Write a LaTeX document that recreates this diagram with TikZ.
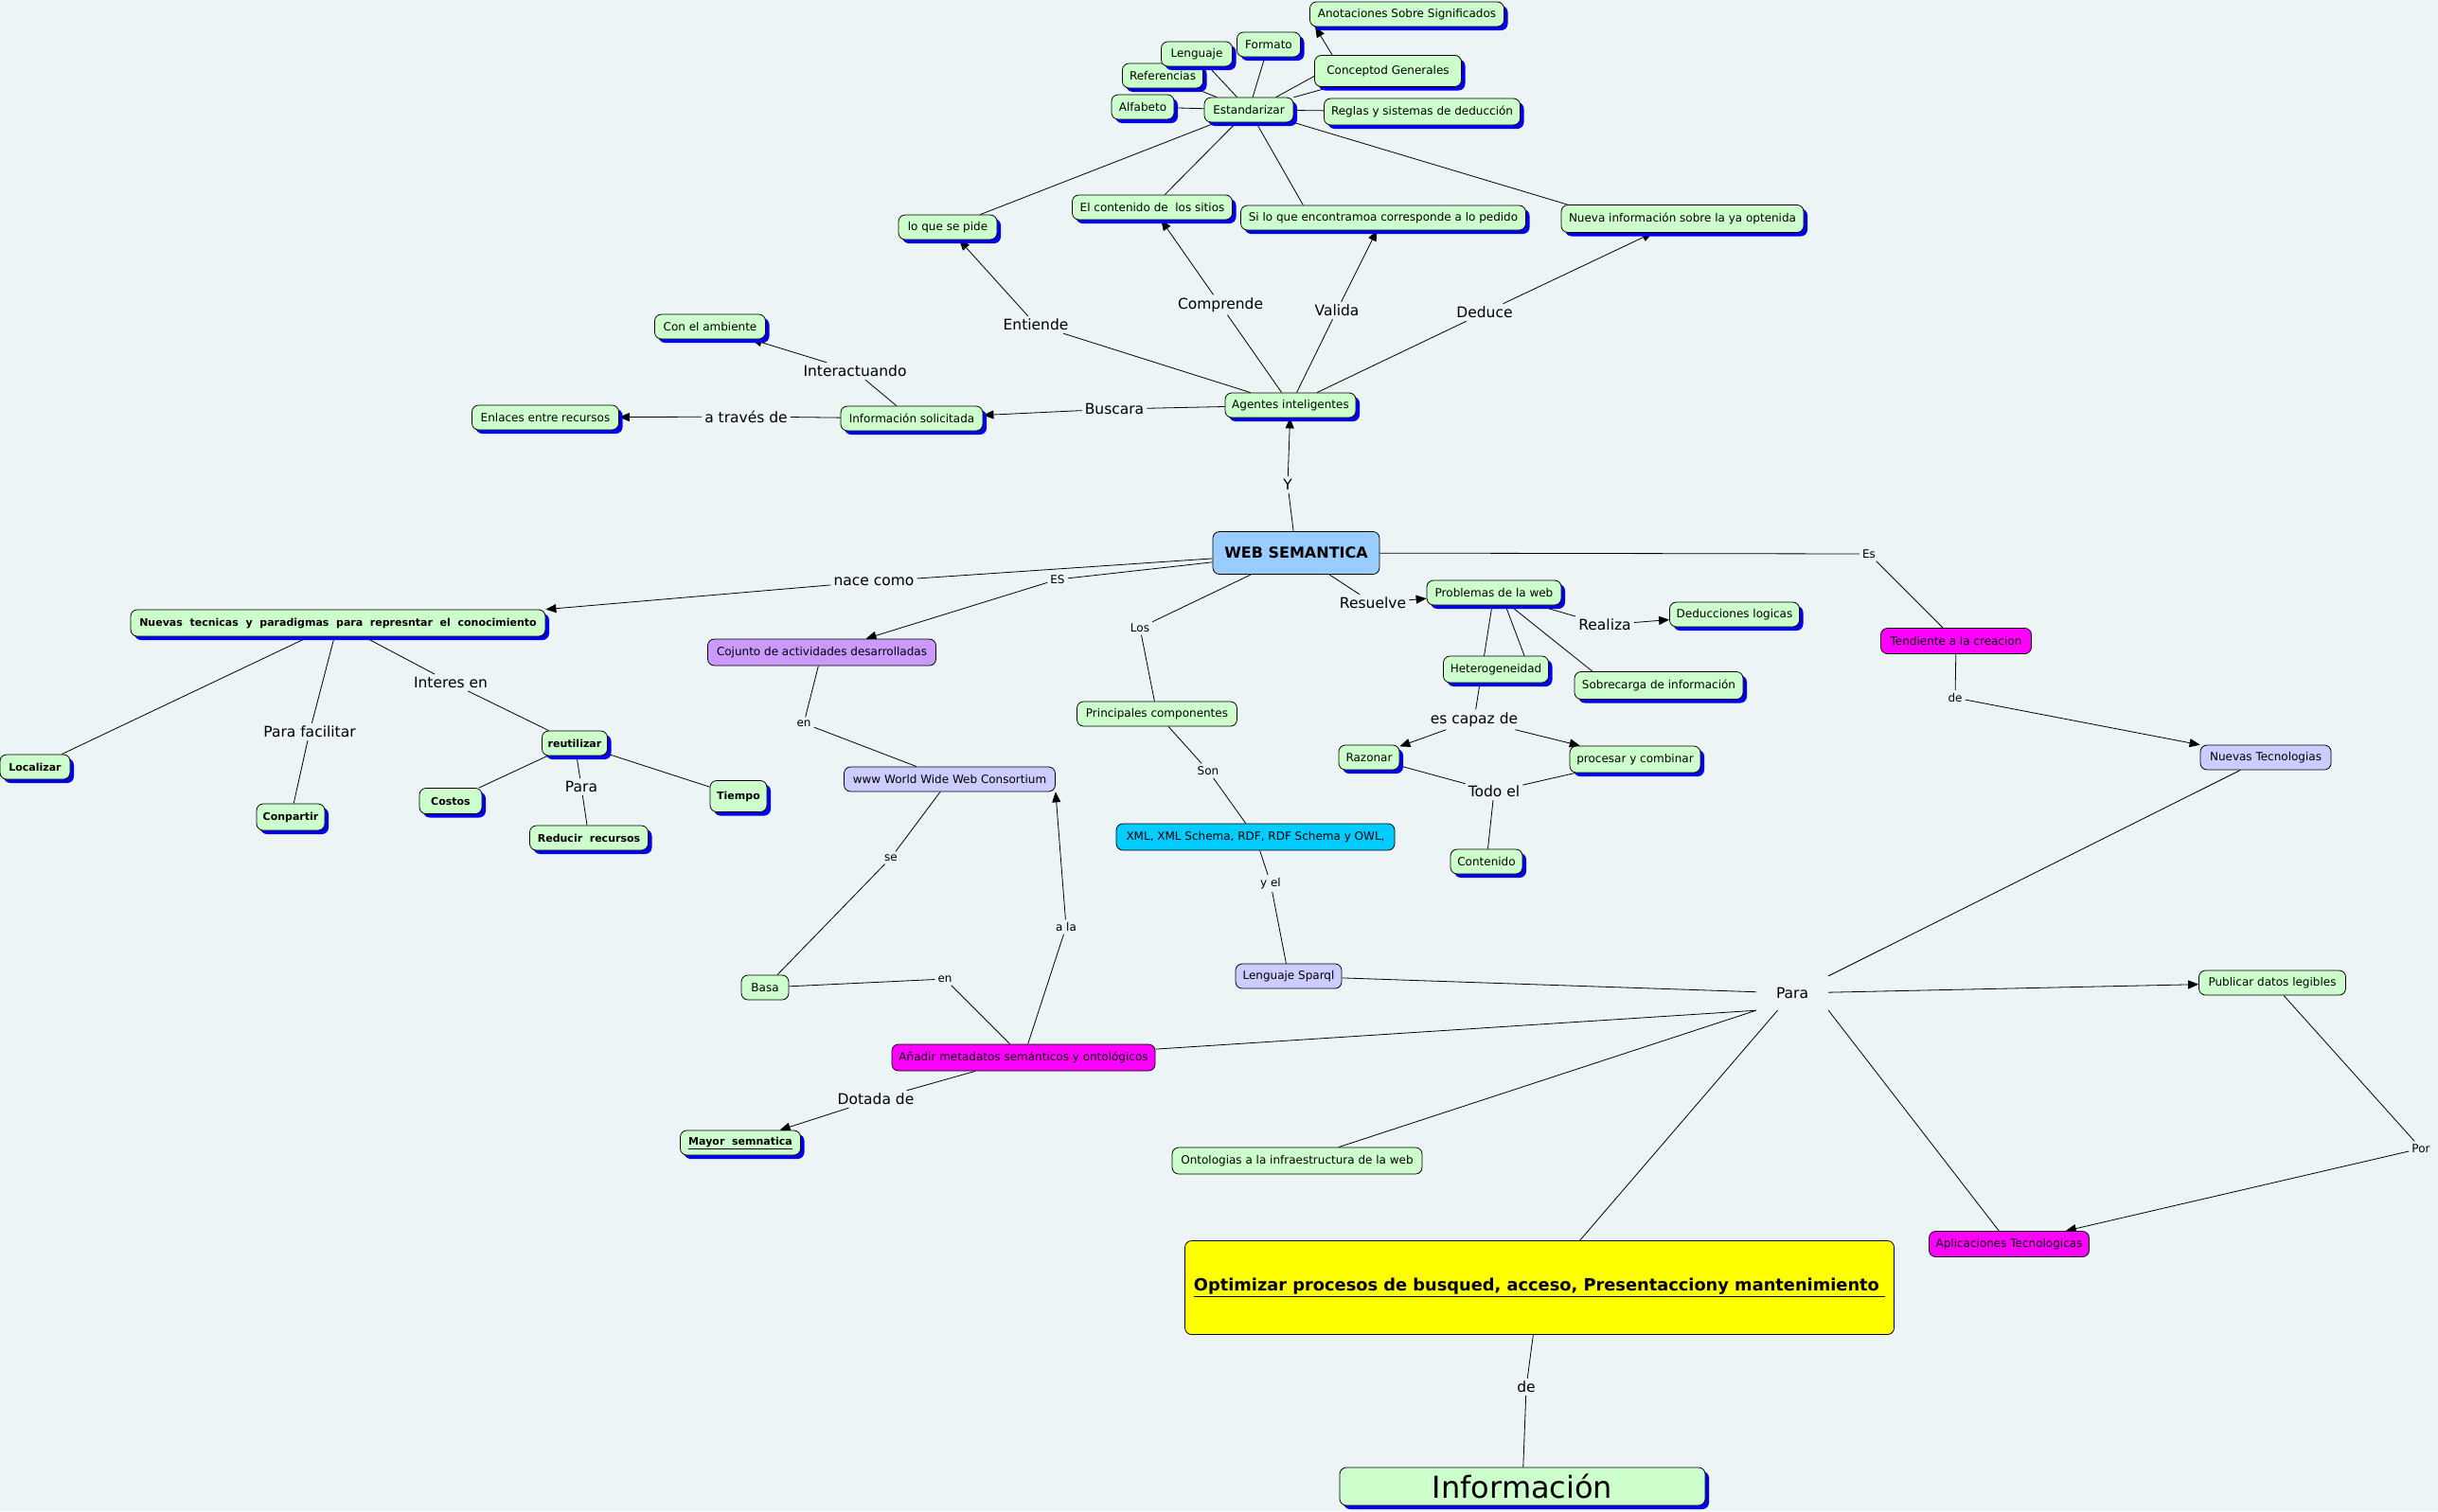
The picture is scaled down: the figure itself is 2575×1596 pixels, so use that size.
\documentclass[tikz,border=0pt]{standalone}
\usepackage{fontspec}
\setmainfont{DejaVu Sans}
\usepackage{tikz}
\usetikzlibrary{arrows.meta,shadows,backgrounds}
\pgfdeclarelayer{edges}
\pgfsetlayers{background,edges,main}
\definecolor{bgc}{RGB}{237,244,246}
\definecolor{cgreen}{RGB}{204,255,204}
\definecolor{clav}{RGB}{204,204,255}
\definecolor{cpurp}{RGB}{204,153,255}
\definecolor{ccyan}{RGB}{0,204,255}
\definecolor{cmag}{RGB}{255,0,255}
\definecolor{cblue}{RGB}{153,204,255}
\definecolor{cyel}{RGB}{255,255,0}
\definecolor{shblue}{RGB}{0,0,235}

\begin{document}
\begin{tikzpicture}[
  x=1pt, y=-1pt,
  box/.style={draw, line width=0.8pt, rounded corners=7pt, inner xsep=6pt, inner ysep=3pt, minimum height=26pt, minimum width=#1, font=\fontsize{12}{14}\selectfont},
  box/.default=20pt,
  sh/.style={drop shadow={shadow xshift=4pt, shadow yshift=-4pt, fill=shblue, opacity=1}},
  con/.style={box=#1, fill=cgreen, sh},
  con/.default=20pt,
  bld/.style={font=\fontsize{11}{13}\selectfont\bfseries},
  lab/.style={inner sep=3pt, font=\fontsize{15.5}{18}\selectfont},
  sml/.style={inner sep=3pt, font=\fontsize{12}{14}\selectfont},
  >={Triangle[length=11pt, width=9pt]},
]
\useasboundingbox (0,0) rectangle (2575,1596);
\begin{pgfonlayer}{background}
\fill[bgc] (0,0) rectangle (2575,1596);
\end{pgfonlayer}

% standardisation cluster
\node[con=205] (anot) at (1486,15) {Anotaciones Sobre Significados};
\node[con=85] (refe) at (1228,80) {Referencias};
\node[con=75] (leng) at (1264,57) {Lenguaje};
\node[con=67] (frmt) at (1340,47) {Formato};
\node[con=155, minimum height=33] (conc) at (1466,75) {Conceptod Generales};
\node[con=66] (alfa) at (1207,113) {Alfabeto};
\node[con=94] (esta) at (1319,116) {Estandarizar};
\node[con=207, minimum height=28] (regl) at (1502,118) {Reglas y sistemas de deducción};
\node[con=169] (cont) at (1217,219) {El contenido de~ los sitios};
\node[con=301] (silo) at (1461,230) {Si lo que encontramoa corresponde a lo pedido};
\node[con=104] (pide) at (1001,240) {lo que se pide};
\node[con=256, minimum height=29] (nuev) at (1777,231) {Nueva información sobre la ya optenida};

% agents
\node[con=138] (agen) at (1363,428) {Agentes inteligentes};
\node[con=150] (info) at (963,442) {Información solicitada};
\node[con=155] (enla) at (576,441) {Enlaces entre recursos};
\node[con=117] (ambi) at (750,345) {Con el ambiente};

\node[lab] (lent) at (1094,343) {Entiende};
\node[lab] (lcom) at (1289,322) {Comprende};
\node[lab] (lval) at (1412,328) {Valida};
\node[lab] (lded) at (1568,330) {Deduce};
\node[lab] (lbus) at (1177,432) {Buscara};
\node[lab] (ltra) at (788,440) {a través de};
\node[lab] (lint) at (903,392) {Interactuando};
\node[lab] (ly) at (1360,512) {Y};

% centre
\node[box=176, minimum height=45, fill=cblue, font=\fontsize{16}{19}\selectfont\bfseries] (web) at (1369,584) {WEB SEMANTICA};
\node[lab] (lnac) at (923,614) {nace como};
\node[sml] (les1) at (1117,612) {ES};
\node[sml] (llos) at (1204,663) {Los};
\node[lab] (lres) at (1450,637) {Resuelve};
\node[sml] (les2) at (1974,585) {Es};

% left branch
\node[con=438, minimum height=28, bld] (tecn) at (357,658) {Nuevas~ tecnicas~ y~ paradigmas~ para~ represntar~ el~ conocimiento};
\node[con=74, bld] (loca) at (37,810) {Localizar};
\node[con=72, minimum height=28, bld] (conp) at (307,863) {Conpartir};
\node[con=69, bld] (reut) at (607,785) {reutilizar};
\node[con=66, minimum height=27, bld] (cost) at (476,846) {Costos};
\node[con=60, minimum height=33, bld] (tiem) at (780,841) {Tiempo};
\node[con=125, bld] (redu) at (622,885) {Reducir~ recursos};
\node[lab] (lfac) at (327,773) {Para facilitar};
\node[lab] (lier) at (476,721) {Interes en};
\node[lab] (lpa2) at (614,831) {Para};

% W3C branch
\node[box=241, minimum height=28, fill=cpurp] (conj) at (868,689) {Cojunto de actividades desarrolladas};
\node[box=223, fill=clav] (w3c) at (1003,823) {www World Wide Web Consortium};
\node[box=50, fill=cgreen] (basa) at (808,1043) {Basa};
\node[box=278, minimum height=28, fill=cmag] (anad) at (1081,1117) {Añadir metadatos semánticos y ontológicos};
\node[con=127, bld] (mayo) at (782,1207) {\underline{Mayor~ semnatica}};
\node[sml] (len1) at (849,764) {en};
\node[sml] (lse) at (941,906) {se};
\node[sml] (len2) at (998,1034) {en};
\node[sml] (lala) at (1126,979) {a la};
\node[lab] (ldot) at (925,1161) {Dotada de};

% problems of the web
\node[con=142] (prob) at (1578,626) {Problemas de la web};
\node[con=137] (dedu) at (1832,649) {Deducciones logicas};
\node[con=111, minimum height=28] (hete) at (1580,707) {Heterogeneidad};
\node[con=178, minimum height=29] (sobr) at (1752,724) {Sobrecarga de información};
\node[con=64] (razo) at (1446,800) {Razonar};
\node[con=138, minimum height=28] (proc) at (1727,802) {procesar y combinar};
\node[con=76] (cnid) at (1570,910) {Contenido};
\node[lab] (lrea) at (1695,660) {Realiza};
\node[lab] (lcap) at (1557,760) {es capaz de};
\node[lab] (ltod) at (1578,836) {Todo el};

% components
\node[box=169, fill=cgreen] (pcom) at (1222,754) {Principales componentes};
\node[box=294, minimum height=28, fill=ccyan] (xml) at (1326,884) {XML, XML Schema, RDF, RDF Schema y OWL,};
\node[box=112, fill=clav] (spar) at (1361,1031) {Lenguaje Sparql};
\node[sml] (lson) at (1276,814) {Son};
\node[sml] (lyel) at (1342,933) {y el};

% right side
\node[box=159, minimum height=27, fill=cmag] (tend) at (2066,677) {Tendiente a la creacion};
\node[box=138, fill=clav] (ntec) at (2393,800) {Nuevas Tecnologias};
\node[sml] (lde1) at (2065,737) {de};
\node[box=155, fill=cgreen] (publ) at (2400,1038) {Publicar datos legibles};
\node[box=169, minimum height=27, fill=cmag] (apli) at (2122,1314) {Aplicaciones Tecnologicas};
\node[sml] (lpor) at (2557,1213) {Por};
\node[box=264, minimum height=28, fill=cgreen] (onto) at (1370,1226) {Ontologias a la infraestructura de la web};
\node[lab, minimum width=76, minimum height=36, inner sep=0pt] (lpar) at (1893,1049) {Para};

% bottom
\node[box=749, minimum height=99, inner xsep=4pt, fill=cyel, font=\fontsize{17.8}{21}\selectfont\bfseries] (opti) at (1626,1360) {\underline{Optimizar procesos de busqued, acceso, Presentacciony mantenimiento~}};
\node[lab] (lde2) at (1612,1465) {de};
\node[con=386, minimum height=40, font=\fontsize{32}{36}\selectfont] (infm) at (1608,1570) {Información};

\begin{pgfonlayer}{edges}
\begin{scope}[line width=0.8pt]
\foreach \n in {alfa,refe,leng,frmt,regl,conc,cont,pide} \draw (esta) -- (\n);
\draw (esta.25) -- (conc.184);
\draw (esta) -- (silo.171);
\draw (esta.south east) -- (nuev.173);
\draw[->] ([xshift=19pt]conc.north west) -- ([xshift=6pt]anot.south west);

\foreach \l/\t in {lent/pide, lcom/cont, lval/silo, lded/nuev, lbus/info} {
  \draw (agen) -- (\l);
  \draw[->] (\l) -- (\t);
}
\draw (info) -- (ltra); \draw[->] (ltra) -- (enla);
\draw (info) -- (lint); \draw[->] (lint) -- (ambi);

\draw (web) -- (ly); \draw[->] (ly) -- (agen);
\draw (web) -- (lnac); \draw[->] (lnac) -- (tecn.north east);
\draw (web) -- (les1); \draw[->] (les1) -- (conj);
\draw (web) -- (llos); \draw (llos) -- (pcom);
\draw (web) -- (lres); \draw[->] (lres) -- (prob);
\draw (web) -- (les2); \draw (les2) -- (tend);
\draw (tend) -- (lde1); \draw[->] (lde1) -- (ntec);

\draw (prob) -- (lrea); \draw[->] (lrea) -- (dedu);
\draw (prob) -- (lcap);
\draw ([xshift=12pt]prob.south) -- ([xshift=30pt]hete.north);
\draw (prob) -- (sobr.168);
\draw[->] (lcap) -- (razo);
\draw[->] (lcap) -- (proc);
\draw (razo) -- (ltod); \draw (proc) -- (ltod); \draw (ltod) -- (cnid);

\draw (pcom) -- (lson); \draw (lson) -- (xml);
\draw (xml) -- (lyel); \draw (lyel) -- (spar);
\draw (spar) -- (lpar);
\draw (anad) -- (lpar.south west);
\draw (onto) -- (lpar.south west);
\draw (ntec) -- (lpar.north east);
\draw (lpar) -- (opti);
\draw (lpar.south east) -- (apli);
\draw[->] (lpar) -- (publ);
\draw (publ) -- (lpor); \draw[->] (lpor) -- (apli);
\draw (opti) -- (lde2); \draw (lde2) -- (infm);

\draw (conj) -- (len1); \draw (len1) -- (w3c);
\draw (w3c) -- (lse); \draw (lse) -- (basa);
\draw (basa) -- (len2); \draw (len2) -- (anad);
\draw (anad) -- (lala); \draw[->] (lala) -- (w3c.south east);
\draw (anad) -- (ldot); \draw[->] (ldot) -- (mayo);

\draw (tecn) -- (loca);
\draw (tecn) -- (lfac); \draw (lfac) -- (conp);
\draw (tecn) -- (lier); \draw (lier) -- (reut);
\draw (reut) -- (cost); \draw (reut) -- (tiem);
\draw (reut) -- (lpa2); \draw (lpa2) -- (redu);
\end{scope}
\end{pgfonlayer}
\end{tikzpicture}
\end{document}
